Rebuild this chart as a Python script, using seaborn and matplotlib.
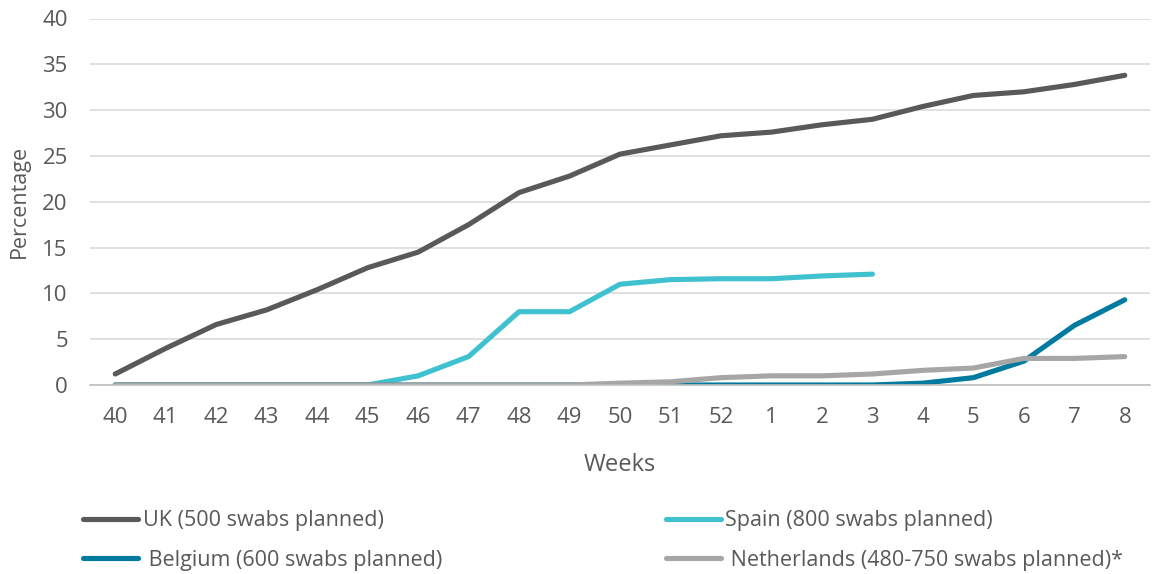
import numpy as np
import pandas as pd
import matplotlib
matplotlib.use("Agg")
import matplotlib.pyplot as plt
import seaborn as sns
from matplotlib.ticker import FixedLocator
from matplotlib.lines import Line2D

weeks = ["40", "41", "42", "43", "44", "45", "46", "47", "48", "49", "50",
         "51", "52", "1", "2", "3", "4", "5", "6", "7", "8"]

uk = [1.2, 4.0, 6.6, 8.2, 10.4, 12.8, 14.5, 17.5, 21.0, 22.8, 25.2,
      26.2, 27.2, 27.6, 28.4, 29.0, 30.4, 31.6, 32.0, 32.8, 33.8]
spain = [0, 0, 0, 0, 0, 0, 1.0, 3.1, 8.0, 8.0, 11.0,
         11.5, 11.6, 11.6, 11.9, 12.1, np.nan, np.nan, np.nan, np.nan, np.nan]
belgium = [0, 0, 0, 0, 0, 0, 0, 0, 0, 0, 0,
           0, 0, 0, 0, 0, 0.2, 0.8, 2.6, 6.5, 9.3]
netherlands = [0, 0, 0, 0, 0, 0, 0, 0, 0, 0, 0.2,
               0.35, 0.8, 1.0, 1.0, 1.2, 1.6, 1.85, 2.9, 2.9, 3.1]

series_names = ["UK (500 swabs planned)", "Spain (800 swabs planned)",
                " Belgium (600 swabs planned)", " Netherlands (480-750 swabs planned)*"]
series_values = [uk, spain, belgium, netherlands]
colors = ["#595959", "#40C1CF", "#007A9E", "#A6A6A6"]

rows = []
for name, vals in zip(series_names, series_values):
    for i, v in enumerate(vals):
        rows.append({"pos": i, "value": v, "series": name})
df = pd.DataFrame(rows)

sns.set_theme(style="white")
plt.rcParams["font.family"] = ["Open Sans", "DejaVu Sans"]
text_color = "#595959"
fs = 16
leg_fs = 15.5
lw = 3.7

fig = plt.figure(figsize=(11.53, 5.74), dpi=100)
ax = fig.add_axes([90 / 1153, 1 - 385 / 574, 1060 / 1153, (385 - 18.5) / 574])

sns.lineplot(data=df, x="pos", y="value", hue="series", hue_order=series_names,
             palette=colors, linewidth=lw, sort=False, ax=ax, legend=False)
for line in ax.lines:
    line.set_solid_capstyle("round")
    line.set_solid_joinstyle("round")

ax.set_xlim(-0.5, len(weeks) - 0.5)
ax.set_ylim(0, 40)
ax.set_yticks(range(0, 41, 5))
ax.set_xticks(range(len(weeks)))
ax.set_xticklabels(weeks)
ax.xaxis.set_minor_locator(FixedLocator(np.arange(-0.5, len(weeks), 1.0)))

ax.grid(axis="y", color="#D9D9D9", linewidth=1.1)
ax.set_axisbelow(True)
for side in ["left", "right", "top"]:
    ax.spines[side].set_visible(False)
ax.spines["bottom"].set_color("#BFBFBF")
ax.spines["bottom"].set_linewidth(1.2)

ax.tick_params(axis="x", which="major", length=0, pad=16, labelsize=fs, labelcolor=text_color)
ax.tick_params(axis="x", which="minor", length=6, width=1.2, color="#BFBFBF", direction="out")
ax.tick_params(axis="y", length=0, pad=16, labelsize=fs, labelcolor=text_color)

ax.set_xlabel("Weeks", fontsize=17, color=text_color, labelpad=18)
ax.set_ylabel("Percentage", fontsize=15.5, color=text_color, labelpad=9)

order = [0, 2, 1, 3]
leg_handles = [Line2D([0], [0], color=colors[i], linewidth=lw, solid_capstyle="round")
               for i in order]
leg_labels = [series_names[i] for i in order]
fig.legend(leg_handles, leg_labels, ncol=2, loc="upper left",
           bbox_to_anchor=(64 / 1153, 1 - 491 / 574), frameon=False,
           fontsize=leg_fs, labelcolor=text_color, handlelength=2.55,
           handletextpad=0.2, columnspacing=10.4, labelspacing=0.85)

fig.savefig("out.png", dpi=100, facecolor="white")
